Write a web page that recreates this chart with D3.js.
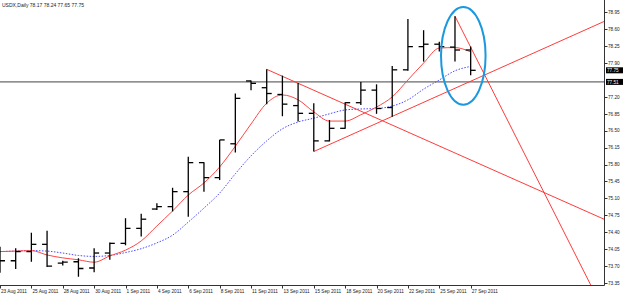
<!DOCTYPE html>
<html>
<head>
<meta charset="utf-8">
<script src="https://cdn.jsdelivr.net/npm/d3@7"></script>
<style>
body { margin: 0; background: #fff; }
</style>
</head>
<body>
<div id="chart"></div>
<script>
// daily bars, 23 Aug - 27 Sep 2011 (with the Sunday bars)
var dates = ["23 Aug 2011", "24 Aug 2011", "25 Aug 2011", "26 Aug 2011", "28 Aug 2011", "29 Aug 2011",
    "30 Aug 2011", "31 Aug 2011", "1 Sep 2011", "2 Sep 2011", "4 Sep 2011", "5 Sep 2011", "6 Sep 2011",
    "7 Sep 2011", "8 Sep 2011", "9 Sep 2011", "11 Sep 2011", "12 Sep 2011", "13 Sep 2011", "14 Sep 2011",
    "15 Sep 2011", "16 Sep 2011", "18 Sep 2011", "19 Sep 2011", "20 Sep 2011", "21 Sep 2011", "22 Sep 2011",
    "23 Sep 2011", "25 Sep 2011", "26 Sep 2011", "27 Sep 2011"];
var opens = [73.93, 73.81, 74.00, 74.15, 73.76, 73.79, 73.66, 73.97, 74.17, 74.48, 74.88, 74.93, 75.24,
    75.84, 75.53, 76.23, 77.53, 77.39, 77.25, 77.02, 76.86, 76.29, 76.55, 77.08, 77.34, 76.98, 77.76,
    78.24, 78.29, 78.23, 78.17];
var highs = [74.10, 74.07, 74.39, 74.43, 73.81, 73.86, 74.07, 74.19, 74.69, 74.78, 75.00, 75.32, 75.96,
    75.85, 76.31, 77.27, 77.54, 77.77, 77.64, 77.49, 77.07, 76.72, 77.09, 77.51, 77.46, 77.84, 78.81,
    78.58, 78.34, 78.87, 78.24];
var lows = [73.56, 73.64, 73.79, 73.68, 73.71, 73.48, 73.57, 73.83, 74.13, 74.31, 74.86, 74.83, 74.72,
    75.24, 75.48, 76.05, 77.34, 77.05, 76.80, 76.69, 76.07, 76.28, 76.54, 77.03, 76.85, 76.79, 77.74,
    77.93, 78.14, 77.93, 77.65];
var closes = [73.81, 74.00, 74.15, 73.70, 73.78, 73.65, 73.97, 74.17, 74.48, 74.67, 74.93, 75.24, 75.84,
    75.53, 76.31, 77.17, 77.48, 77.27, 77.05, 76.86, 76.29, 76.55, 77.08, 77.34, 76.96, 77.76, 78.24,
    78.29, 78.24, 78.17, 77.75];

// moving averages
var maRed = [74.00, 74.01, 74.02, 73.93, 73.87, 73.83, 73.78, 73.91, 74.03, 74.22, 74.53, 74.84, 75.17,
    75.42, 75.75, 76.18, 76.64, 77.07, 77.24, 77.14, 76.89, 76.70, 76.70, 76.83, 76.99, 77.20, 77.55,
    77.90, 78.21, 78.22, 78.13];
var maBlue = [74.00, 74.01, 74.02, 74.01, 73.97, 73.92, 73.90, 73.92, 73.98, 74.06, 74.18, 74.34, 74.61,
    74.90, 75.21, 75.61, 75.98, 76.29, 76.54, 76.68, 76.76, 76.85, 76.93, 76.95, 76.96, 77.01, 77.14,
    77.36, 77.55, 77.74, 77.83];

var priceTicks = [78.95, 78.60, 78.25, 77.90, 77.20, 76.85, 76.50, 76.15, 75.80, 75.45, 75.10, 74.75,
    74.40, 74.05, 73.70, 73.35];

// trend lines: [bar index, price] pairs
var trendLines = [
    [[17, 77.77], [38.5, 74.67]],
    [[20, 76.07], [38.5, 78.76]],
    [[29, 78.87], [37.65, 73.31]]
];
var hLevel = 77.51;
var lastPrice = 77.75;
var title = "USDX,Daily  78.17 78.24 77.65 77.75";

var width = 625, height = 296;
var plotRight = 604.5, plotBottom = 285.5;

var svg = d3.select("#chart")
    .append("svg")
    .attr("width", width)
    .attr("height", height)
    .style("font-family", "'Liberation Sans', Arial, sans-serif");

var xScale = d3.scaleLinear()
    .domain([0, 38.53])
    .range([0, plotRight]);

var yScale = d3.scaleLinear()
    .domain([73.35, 78.95])
    .range([283, 12.3]);

svg.append("defs")
    .append("clipPath")
    .attr("id", "plot")
    .append("rect")
    .attr("x", 0)
    .attr("y", 0)
    .attr("width", plotRight)
    .attr("height", plotBottom);

var plot = svg.append("g").attr("clip-path", "url(#plot)");

// horizontal level
plot.append("line")
    .attr("x1", 0)
    .attr("x2", plotRight)
    .attr("y1", yScale(hLevel))
    .attr("y2", yScale(hLevel))
    .attr("stroke", "#444")
    .attr("stroke-width", 1);

// trend lines
plot.selectAll(".trend")
    .data(trendLines)
    .join("line")
    .attr("class", "trend")
    .attr("x1", d => xScale(d[0][0]))
    .attr("y1", d => yScale(d[0][1]))
    .attr("x2", d => xScale(d[1][0]))
    .attr("y2", d => yScale(d[1][1]))
    .attr("stroke", "#ff3b3b")
    .attr("stroke-width", 1);

// moving averages
var maLine = d3.line()
    .x((d, i) => xScale(i))
    .y(d => yScale(d))
    .curve(d3.curveMonotoneX);

plot.append("path")
    .attr("d", maLine(maBlue))
    .attr("fill", "none")
    .attr("stroke", "#4b4bff")
    .attr("stroke-width", 1)
    .attr("stroke-dasharray", "1.5,1.5");

plot.append("path")
    .attr("d", maLine(maRed))
    .attr("fill", "none")
    .attr("stroke", "#ff4545")
    .attr("stroke-width", 1);

// OHLC bars
var bars = dates.map((d, i) => ({ i: i, o: opens[i], h: highs[i], l: lows[i], c: closes[i] }));

var barG = plot.selectAll(".bar")
    .data(bars)
    .join("g")
    .attr("class", "bar")
    .attr("stroke", "#000")
    .attr("stroke-width", 1.3);

barG.append("line")
    .attr("x1", d => xScale(d.i))
    .attr("x2", d => xScale(d.i))
    .attr("y1", d => yScale(d.h))
    .attr("y2", d => yScale(d.l));

barG.append("line")
    .attr("x1", d => xScale(d.i) - 5)
    .attr("x2", d => xScale(d.i))
    .attr("y1", d => yScale(d.o))
    .attr("y2", d => yScale(d.o));

barG.append("line")
    .attr("x1", d => xScale(d.i))
    .attr("x2", d => xScale(d.i) + 5)
    .attr("y1", d => yScale(d.c))
    .attr("y2", d => yScale(d.c));

// ellipse annotation around the last bars
plot.append("ellipse")
    .attr("cx", xScale(29.53))
    .attr("cy", yScale(78.05))
    .attr("rx", xScale(1.42) - xScale(0))
    .attr("ry", yScale(77.04) - yScale(78.05))
    .attr("fill", "none")
    .attr("stroke", "#1b98de")
    .attr("stroke-width", 2);

// frame
svg.append("line")
    .attr("x1", plotRight).attr("x2", plotRight)
    .attr("y1", 0).attr("y2", plotBottom)
    .attr("stroke", "#333");
svg.append("line")
    .attr("x1", 0).attr("x2", plotRight)
    .attr("y1", plotBottom).attr("y2", plotBottom)
    .attr("stroke", "#333");

// price axis
var yAxis = svg.append("g");
yAxis.selectAll(".ptick")
    .data(priceTicks)
    .join("line")
    .attr("x1", plotRight)
    .attr("x2", plotRight + 3)
    .attr("y1", d => Math.round(yScale(d)) + 0.5)
    .attr("y2", d => Math.round(yScale(d)) + 0.5)
    .attr("stroke", "#333");
yAxis.selectAll(".plabel")
    .data(priceTicks)
    .join("text")
    .attr("x", 608)
    .attr("y", d => yScale(d) + 1.7)
    .style("font-size", "4.7px")
    .attr("fill", "#222")
    .text(d => d.toFixed(2));

// price boxes
[lastPrice, hLevel].forEach(p => {
    svg.append("rect")
        .attr("x", 606)
        .attr("y", yScale(p) - 3)
        .attr("width", 17)
        .attr("height", 6)
        .attr("fill", "#000");
    svg.append("text")
        .attr("x", 607)
        .attr("y", yScale(p) + 1.7)
        .style("font-size", "4.7px")
        .attr("fill", "#fff")
        .text(p.toFixed(2));
});

// date axis, every second bar
var dateTicks = bars.filter(d => d.i % 2 === 0);
svg.selectAll(".dtick")
    .data(dateTicks)
    .join("line")
    .attr("x1", d => Math.round(xScale(d.i)) + 0.5)
    .attr("x2", d => Math.round(xScale(d.i)) + 0.5)
    .attr("y1", plotBottom)
    .attr("y2", plotBottom + 3)
    .attr("stroke", "#333");
svg.selectAll(".dlabel")
    .data(dateTicks)
    .join("text")
    .attr("x", d => xScale(d.i) + 1)
    .attr("y", 292.5)
    .style("font-size", "4.7px")
    .attr("fill", "#222")
    .text(d => dates[d.i]);

// header
svg.append("text")
    .attr("x", 2)
    .attr("y", 7)
    .style("font-size", "5px")
    .attr("fill", "#222")
    .text(title);
</script>
</body>
</html>
